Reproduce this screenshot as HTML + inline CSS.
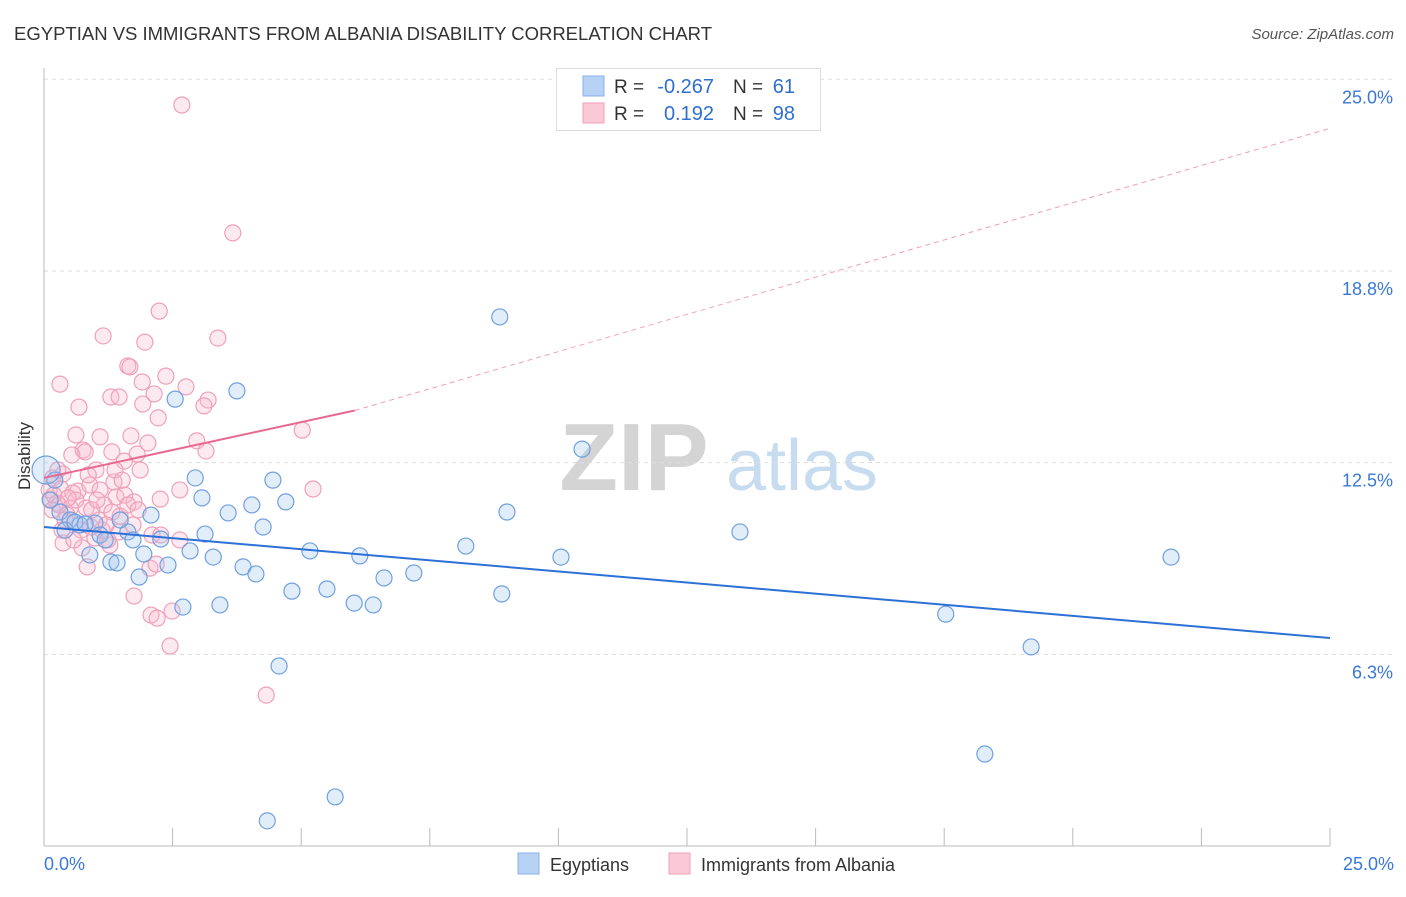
<!DOCTYPE html>
<html><head><meta charset="utf-8"><style>
body{margin:0;background:#fff;font-family:"Liberation Sans",sans-serif;}
svg text{font-family:"Liberation Sans",sans-serif;}
</style></head><body>
<svg id="chart" width="1406" height="892">
<text x="14" y="40" font-size="18.5" fill="#333">EGYPTIAN VS IMMIGRANTS FROM ALBANIA DISABILITY CORRELATION CHART</text>
<text x="1394" y="39" font-size="15" fill="#555" font-style="italic" text-anchor="end">Source: ZipAtlas.com</text>
<text x="30" y="456" font-size="17" fill="#333" text-anchor="middle" transform="rotate(-90 30 456)">Disability</text>
<g>
<text x="634" y="490" font-size="96" fill="#d4d4d4" text-anchor="middle" font-family="Liberation Serif" font-weight="bold">ZIP</text>
<text x="802" y="490" font-size="72" fill="#c8dcf0" text-anchor="middle">atlas</text>
</g>
<g id="grid"></g><g id="axes"></g><g id="pts"></g><g id="lines"></g>
<g>
<rect x="556.5" y="68.5" width="264" height="62" fill="#fff" stroke="#ddd"/>
<rect x="583" y="76" width="21" height="20" fill="#b8d2f5" stroke="#8ab0e8"/>
<rect x="583" y="103" width="21" height="20" fill="#fbc8d8" stroke="#f0a0b8"/>
<text x="614" y="93" font-size="19" fill="#333">R =</text><text x="714" y="93" font-size="20" fill="#2e6fd0" text-anchor="end">-0.267</text>
<text x="733" y="93" font-size="19" fill="#333">N =</text><text x="795" y="93" font-size="20" fill="#2e6fd0" text-anchor="end">61</text>
<text x="614" y="120" font-size="19" fill="#333">R =</text><text x="714" y="120" font-size="20" fill="#2e6fd0" text-anchor="end">0.192</text>
<text x="733" y="120" font-size="19" fill="#333">N =</text><text x="795" y="120" font-size="20" fill="#2e6fd0" text-anchor="end">98</text>
</g>
<g>
<rect x="518" y="853" width="21" height="21" fill="#b8d2f5" stroke="#8ab0e8"/>
<text x="550" y="871" font-size="18" fill="#333">Egyptians</text>
<rect x="669" y="853" width="21" height="21" fill="#fbc8d8" stroke="#f0a0b8"/>
<text x="701" y="871" font-size="18" fill="#333">Immigrants from Albania</text>
</g>
</svg>
<script>
const yTicks=[6.25,12.5,18.75,25];
const yTickLabels=["6.3%","12.5%","18.8%","25.0%"];
const xTickLabels=["0.0%","25.0%"];
const blueX=[8.86,3.75,2.55,10.46,2.94,4.45,3.07,4.70,4.04,3.58,9.00,2.08,4.26,3.13,13.53,1.63,2.27,1.73,8.20,5.17,2.84,1.94,6.14,3.29,10.05,21.91,2.41,1.30,1.42,3.87,4.12,6.61,7.19,1.85,4.82,5.50,8.90,6.03,6.40,3.42,2.70,17.53,19.19,4.57,18.29,5.66,4.34,0.31,0.51,0.70,0.99,1.09,0.41,0.60,0.89,0.12,0.21,1.48,0.80,1.19,0.04];
const blueY=[17.25,14.84,14.57,12.94,12.0,11.93,11.35,11.22,11.12,10.86,10.89,10.79,10.40,10.17,10.24,10.24,10.01,9.98,9.78,9.62,9.62,9.52,9.46,9.42,9.42,9.42,9.16,9.26,9.23,9.10,8.87,8.74,8.90,8.77,8.31,8.38,8.22,7.92,7.86,7.86,7.79,7.56,6.49,5.87,3.00,1.60,0.82,10.89,10.63,10.47,10.53,10.14,10.30,10.56,9.49,11.28,11.93,10.63,10.50,9.98,12.26];
const pinkX=[2.68,3.67,2.24,1.15,3.38,1.96,1.63,1.67,0.31,2.37,1.91,2.76,1.30,1.46,2.14,3.19,0.68,3.11,1.92,2.22,0.62,1.09,1.69,2.97,2.02,0.76,1.32,0.80,1.81,3.15,5.02,0.54,1.56,1.01,0.37,0.17,1.36,2.26,2.64,5.23,0.33,0.66,1.40,1.57,1.75,0.12,0.25,0.51,0.82,1.17,1.48,1.73,0.45,0.91,1.13,1.46,2.10,2.27,2.64,0.99,1.28,0.37,0.74,0.84,2.06,2.18,1.75,2.08,2.20,2.49,2.45,4.32,0.10,0.19,0.27,0.56,0.41,1.07,1.24,1.63,1.83,0.62,0.89,1.09,1.32,0.29,0.47,0.72,0.93,1.21,1.38,1.52,1.87,0.16,0.35,0.58,0.86,1.03];
const pinkY=[24.16,19.99,17.44,16.63,16.56,16.43,15.65,15.62,15.06,15.32,15.13,14.97,14.64,14.64,14.74,14.54,14.31,14.35,14.41,13.96,13.40,13.34,13.37,13.21,13.14,12.91,12.85,12.85,12.78,12.88,13.56,12.75,12.55,12.26,12.13,12.00,11.87,11.31,11.61,11.64,11.64,11.57,11.38,11.44,11.22,11.31,11.18,11.02,11.02,11.12,10.76,10.47,10.79,10.40,10.30,10.24,10.14,10.14,9.98,10.04,9.81,9.88,9.72,9.10,9.06,9.19,8.15,7.53,7.43,7.66,6.52,4.92,11.61,11.44,12.26,11.51,10.63,10.63,9.98,11.12,10.96,11.28,11.77,11.61,10.89,11.12,11.35,10.30,10.96,10.47,12.26,11.93,12.26,10.96,10.30,9.98,12.10,11.28];
const blueTrend=[10.4,6.78];
const pinkTrend=[12.0,14.2,23.4];
const pinkTrendX=[0,6.04,25];

const NS="http://www.w3.org/2000/svg";
const X=v=>44+v*51.44, Y=v=>846-v*30.67;
function mk(p,t,a){const e=document.createElementNS(NS,t);for(const k in a)e.setAttribute(k,a[k]);p.appendChild(e);return e;}
const grid=document.getElementById('grid'),axes=document.getElementById('axes'),pts=document.getElementById('pts'),lines=document.getElementById('lines');
yTicks.forEach((t,i)=>{
 const l=mk(grid,'line',{x1:44,x2:1394,y1:Y(t),y2:Y(t),stroke:'#ddd','stroke-dasharray':'4 4'});
 
 
 const tx=mk(axes,'text',{x:1393,y:Y(t)+24,'font-size':18,fill:'#3a78d8','text-anchor':'end'});
 tx.textContent=yTickLabels[i];
 
 
});
const ya=mk(axes,'line',{x1:44,x2:44,y1:68,y2:846,stroke:'#bbb'});


const xa=mk(axes,'line',{x1:44,x2:1330,y1:846,y2:846,stroke:'#bbb'});


for(let i=0;i<=10;i++){
 const t=mk(axes,'line',{x1:X(i*2.5),x2:X(i*2.5),y1:828,y2:846,stroke:'#bbb'});
 
 
}
[[0,'start',44],[25,'end',1394]].forEach((d,i)=>{
 const t=mk(axes,'text',{x:d[2],y:870,'font-size':18,fill:'#3a78d8','text-anchor':d[1]});
 t.textContent=xTickLabels[i];
 
 
});
pinkX.forEach((v,i)=>{
 const c=mk(pts,'circle',{cx:X(v),cy:Y(pinkY[i]),r:8,fill:'rgba(248,185,205,0.3)',stroke:'#f0a0b8','stroke-width':1.2});
 
 
});
blueX.forEach((v,i)=>{
 const c=mk(pts,'circle',{cx:X(v),cy:Y(blueY[i]),r:i==blueX.length-1?14:8,fill:'rgba(160,195,240,0.3)',stroke:'#6fa0e0','stroke-width':1.2});
 
 
});
const bl=mk(lines,'line',{x1:X(0),y1:Y(blueTrend[0]),x2:X(25),y2:Y(blueTrend[1]),stroke:'#2d70d8','stroke-width':2});


const pl=mk(lines,'line',{x1:X(pinkTrendX[0]),y1:Y(pinkTrend[0]),x2:X(pinkTrendX[1]),y2:Y(pinkTrend[1]),stroke:'#e86890','stroke-width':2});


const pd=mk(lines,'line',{x1:X(pinkTrendX[1]),y1:Y(pinkTrend[1]),x2:X(pinkTrendX[2]),y2:Y(pinkTrend[2]),stroke:'#f0a0b8','stroke-width':1,'stroke-dasharray':'5 4'});


</script>
</body></html>
